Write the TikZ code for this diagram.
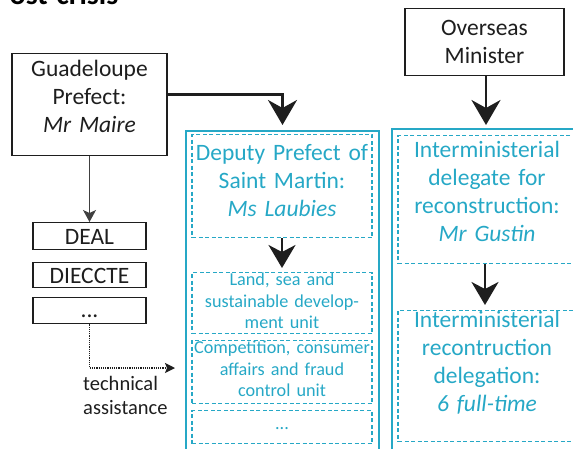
\documentclass[tikz,border=0pt]{standalone}
\usepackage{fontspec}
\setmainfont{Carlito}
\usetikzlibrary{arrows.meta}
\definecolor{unitcyan}{RGB}{38,168,198}
\definecolor{inkgrey}{RGB}{30,30,30}
\newcommand{\bigtext}{\fontsize{23.5}{28}\selectfont}
\newcommand{\smalltext}{\fontsize{18.2}{21.5}\selectfont}
\begin{document}
\begin{tikzpicture}[x=1pt,y=-1pt,
  blackbox/.style={draw=inkgrey,line width=1.3pt,text=inkgrey,inner xsep=2pt,inner ysep=0pt,align=center,font=\bigtext,anchor=north},
  column/.style={draw=unitcyan,line width=1.6pt,inner sep=0pt,anchor=north},
  unitbox/.style={draw=unitcyan,dashed,dash pattern=on 4pt off 2.5pt,line width=1.1pt,text=unitcyan,inner xsep=2pt,inner ysep=0pt,align=center,font=\bigtext,anchor=north},
  bigarrow/.style={draw=inkgrey,line width=2.7pt,-{Stealth[length=25pt,width=29pt,inset=8pt]}},
  midarrow/.style={draw=inkgrey,line width=2.5pt,-{Stealth[length=23pt,width=27pt,inset=7pt]}},
  thinarrow/.style={draw=inkgrey!85,line width=1.2pt,-{Stealth[length=12pt,width=13pt,inset=3pt]}}]
\useasboundingbox (0,0) rectangle (573,448);

% title, cut by the page
\node[anchor=base west,inner sep=0pt,font=\fontsize{30}{34}\bfseries\selectfont] (title) at (-6,4) {Post-crisis};

% black boxes
\node[blackbox,text width=151pt,text height=23pt,text depth=79pt] (prefect) at (89.5,53) {Guadeloupe\\Prefect:\\\textit{Mr Maire}};
\node[blackbox,text width=155pt,text height=27pt,text depth=40pt] (minister) at (484.5,8) {Overseas\\Minister};
\node[blackbox,text width=109pt,text height=22pt,text depth=5pt] (deal) at (89.5,222) {DEAL};
\node[blackbox,text width=109pt,text height=21pt,text depth=4pt] (dieccte) at (89.5,262) {DIECCTE};
\node[blackbox,text width=109pt,text height=20pt,text depth=6pt] (etc) at (89.5,297) {...};

% cyan columns
\node[column,minimum width=193pt,minimum height=340pt] (depcol) at (282.5,130) {};
\node[column,minimum width=190pt,minimum height=340pt] (delcol) at (487,128) {};

% left column units
\node[unitbox,text width=176pt,text height=26pt,text depth=77pt] (deputy) at (282,134) {Deputy Prefect of\\Saint Martin:\\\textit{Ms Laubies}};
\node[unitbox,font=\smalltext,text width=176pt,text height=13pt,text depth=48pt] (land) at (282,272) {Land, sea and\\sustainable develop-\\ment unit};
\node[unitbox,font=\smalltext,text width=176pt,text height=13pt,text depth=50pt] (fraud) at (282,340) {Competition, consumer\\affairs and fraud\\control unit};
\node[unitbox,font=\smalltext,text width=176pt,text height=19pt,text depth=14pt] (otherunit) at (282,410) {...};

% right column units
\node[unitbox,text width=174pt,text height=22pt,text depth=106pt] (delegate) at (487,135) {Interministerial\\delegate for\\reconstruction:\\\textit{Mr Gustin}};
\node[unitbox,text width=174pt,text height=17pt,text depth=114pt] (delegation) at (487,310) {Interministerial\\recontruction\\delegation:\\\textit{6 full-time}};

% technical assistance
\node[anchor=base west,inner sep=0pt,align=left,text=inkgrey,font=\fontsize{20.5}{24}\selectfont] (assist) at (83,414) {technical\\assistance};
\coordinate (assistend) at (175,368);

% connectors
\draw[bigarrow,shorten >=5pt] ([yshift=10pt]prefect.east) -| (depcol.north);
\draw[bigarrow,shorten >=3pt] ([xshift=1.5pt]minister.south) -- ([xshift=1.5pt]minister.south |- delcol.north);
\draw[midarrow,shorten >=4pt] (deputy.south) -- (land.north);
\draw[midarrow,shorten >=5pt] ([xshift=-2pt]delegate.south) -- ([xshift=-2pt]delegation.north);
\draw[thinarrow] (prefect.south) -- (deal.north);
\draw[draw=inkgrey,line width=1.2pt,dash pattern=on 1.2pt off 1pt,-{Stealth[length=10pt,width=10pt,inset=2pt]}] (etc.south) |- (assistend);
\end{tikzpicture}
\end{document}
